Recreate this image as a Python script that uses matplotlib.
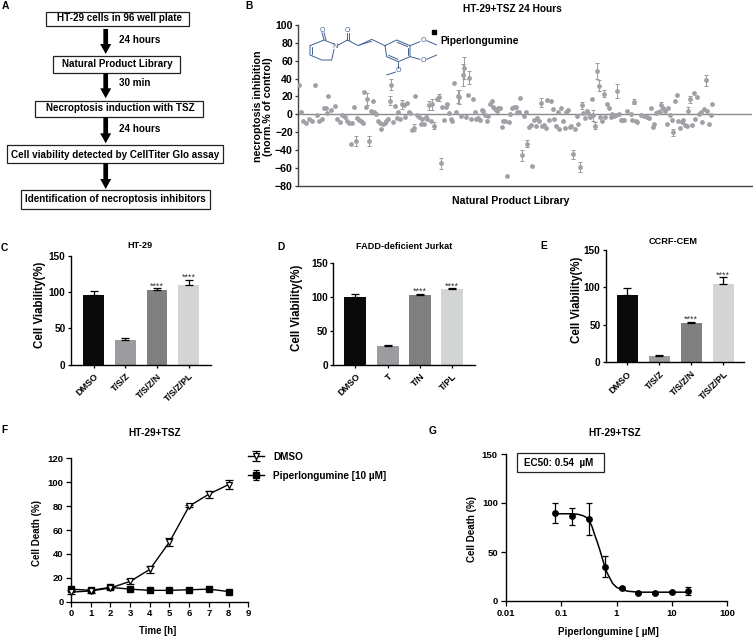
import matplotlib
matplotlib.use('Agg')
import matplotlib.pyplot as plt
from matplotlib.patches import FancyArrow, Rectangle

W, H = 753, 638
plt.rcParams['font.family'] = ['Liberation Sans', 'DejaVu Sans']
plt.rcParams['font.weight'] = 'bold'
plt.rcParams['axes.labelweight'] = 'bold'
plt.rcParams['axes.linewidth'] = 1.0
NARROW = ['Liberation Sans Narrow', 'Liberation Sans']

# ---------- panel B data ----------
lib_x = [208,214,220,229,237,245,255,260,266,275,
         282,287,291,295,303,316,321,329,337,345,
         352,358,362,367,372,377,382,388,393,398,
         403,408,412,418,423,428,433,438,443,449,
         454,459,464,469,474,479,484,490,494,500,
         505,511,516,521,526,531,536,541,546,551,
         556,562,567,572,577,582,587,592,597,602,
         607,612,622,626,632,637,642,647,652,657,
         662,667,672,678,683,688,693,698,703,708,
         713,718,723,729,734,739,744,750,755,760,
         765,770,775,780,785,790,795,800,805,810,
         815,820,825,830,836,
         841,846,851,857,862,867,871,877,882,887,
         892,897,902,907,912,917,922,927,932,937,
         942,947,952,958,963,968,973,978,983,988,
         993,999,1004,1009,1014,1019,1024,1030,1035,1040,
         1045,1050,1055,1060,1065,1070,1075,1080,1085,1090,
         1096,1101,1106,1111,1116,1121,1126,1132,1137,1142,
         1147,1152,1157,1162,1167,1172,1177,1182,1192,1202,
         1207,1212,1217,1222,1232,1242,1252,1258,1264,1269,
         1273,1278,1285,1290,1294,1300,1305,1310,1315,1320,
         1325,1330,1335,1340,1345,1350,1355,1360,1365,1370,
         1375,1380,1385,1391,1396,1401,1406,1412,1417,1422,
         1427,1432,1437,1442,1447]
lib_y = [33,2,-7,-10,-5,-7,33,-1,-8,-5,
         7,7,1,21,5,9,-5,-9,-1,-3,
         -7,-10,-33,-10,8,-30,-4,-6,-8,-10,
         25,8,17,-30,4,15,2,0,-8,-10,
         -16,-11,-10,-7,-5,15,33,-9,9,-4,
         3,-5,11,10,-3,13,3,1,-18,-15,
         21,-1,-3,-11,-5,-11,-3,-5,10,-8,
         11,-13,17,19,-55,8,-6,8,12,1,
         -5,-7,35,3,20,19,-2,44,52,-3,
         22,41,-5,17,2,-5,-4,-6,5,4,
         -1,-7,-2,12,15,8,6,4,7,7,
         -14,-8,-7,-69,-9,
         0,7,8,8,3,2,18,-46,-2,3,
         -33,-14,-12,-58,-6,-13,-4,-8,13,-13,
         -12,-15,16,-6,15,6,-5,-13,2,-17,
         7,-7,-15,3,5,-14,-13,-45,-17,-2,
         -11,-59,10,1,-4,4,1,-3,17,-1,
         -13,48,32,-3,-7,23,-3,12,7,-3,
         0,-2,-1,26,0,-6,-6,-6,4,0,
         -6,14,-7,-9,-1,-2,-3,-4,7,-14,
         -11,1,2,3,10,7,4,-11,7,-1,
         -6,-20,15,22,-7,-15,-9,-6,-12,-13,
         4,17,-12,24,-5,19,0,2,-9,6,
         38,4,-11,-1,12]
err_x = [377,418,412,484,479,516,551,597,607,612,626,632,683,688,698,703,718,877,892,932,1030,1050,1055,1090,1096,1101,1106,1121,1162,1212,1294,1330,1375,1380,1427]
err_y = [-30,-30,17,33,15,11,-15,10,11,-13,19,-55,20,19,44,52,41,-46,-33,13,-45,-59,10,-1,-13,48,32,23,26,14,10,-20,4,17,38]
err_e = [6,6,7,6,5,5,4,5,6,4,4,6,7,8,12,12,7,6,4,5,5,6,4,6,4,9,6,4,8,3,4,4,4,4,6]
pl_x = [611]
pl_y = [92]
pl_e = [2]
b_yticks = list(range(-80, 101, 20))

# ---------- bar panels ----------
c_labels = ['DMSO', 'T/S/Z', 'T/S/Z/N', 'T/S/Z/PL']
c_vals = [96, 34.5, 102.5, 109]
c_errs = [5, 2, 3, 8]
d_labels = ['DMSO', 'T', 'T/N', 'T/PL']
d_vals = [100, 28, 103, 111]
d_errs = [4, 1, 1.5, 1.5]
e_labels = ['DMSO', 'T/S/Z', 'T/S/Z/N', 'T/S/Z/PL']
e_vals = [90, 8.5, 52.5, 104]
e_errs = [8.5, 1.5, 1.5, 9]
bar_colors = ['#0a0a0a', '#9b9ba0', '#808080', '#d3d5d5']

# ---------- panel F ----------
time_h = [0, 1, 2, 3, 4, 5, 6, 7, 8]
dmso = [8, 9, 11.5, 17, 27, 50, 80, 90, 98]
dmso_err = [1.5, 2, 1, 2, 3, 3, 1, 3, 4]
piper = [10.5, 9.5, 12, 10.5, 9.5, 9.5, 10, 10.5, 8.5]
piper_err = [1, 1, 1, 1, 1, 1, 1, 1, 1]

# ---------- panel G ----------
conc = [0.078, 0.156, 0.3125, 0.625, 1.25, 2.5, 5, 10, 20]
death = [90, 86.5, 84, 35, 13, 8, 8.5, 9, 10]
death_err = [10, 8.5, 16.5, 11, 1, 1, 1, 1, 4]
fit_x = [0.078, 0.12, 0.156, 0.2, 0.25, 0.29, 0.32, 0.36, 0.4, 0.45, 0.5, 0.55, 0.6, 0.65, 0.7, 0.78, 0.85, 1, 1.25, 1.6, 2, 2.5, 5, 10, 20]
fit_y = [89, 89, 89, 88.5, 87, 85, 82, 76, 68, 60, 52, 44, 37, 31, 27, 22, 18, 14, 11.5, 10, 9.5, 9, 9, 9, 9]

fig = plt.figure(figsize=(W / 100, H / 100), dpi=100)


def px_axes(x0, y0, x1, y1):
    ax = fig.add_axes([x0 / W, 1 - y1 / H, (x1 - x0) / W, (y1 - y0) / H])
    ax.patch.set_alpha(0)
    ax.spines['top'].set_visible(False)
    ax.spines['right'].set_visible(False)
    return ax


def place_labels(ax, box, ylab=None, xlab=None):
    """Put axis labels at pixel centres."""
    x0, y0, x1, y1 = box
    if ylab:
        ax.yaxis.label.set_va('center')
        ax.yaxis.set_label_coords((ylab[0] - x0) / (x1 - x0), (y1 - ylab[1]) / (y1 - y0))
    if xlab:
        ax.xaxis.label.set_va('center')
        ax.xaxis.set_label_coords((xlab[0] - x0) / (x1 - x0), (y1 - xlab[1]) / (y1 - y0))


# overlay in pixel coordinates for the flowchart, structure and labels
ov = fig.add_axes([0, 0, 1, 1], zorder=5)
ov.set_xlim(0, W)
ov.set_ylim(H, 0)
ov.axis('off')
ov.patch.set_alpha(0)

for t, x, y in [('A', 5, 6), ('B', 249, 6), ('C', 4, 248), ('D', 281, 247), ('E', 544, 246), ('F', 5, 430), ('G', 433, 431)]:
    ov.text(x, y, t, fontsize=7.4, ha='center', va='center')

# Panel A
boxes = [(46.3, 11.7, 189.3, 26, 'HT-29 cells in 96 well plate', 120, 18.3),
         (52.7, 56.3, 180, 73.3, 'Natural Product Library', 117.3, 64.3),
         (34.7, 100.7, 202.7, 117.3, 'Necroptosis induction with TSZ', 120, 108.3),
         (7.3, 145.3, 223.3, 163.3, 'Cell viability detected by CellTiter Glo assay', 114.7, 154.5),
         (21.3, 190, 210, 209.3, 'Identification of necroptosis inhibitors', 115.7, 199.5)]
for x0, y0, x1, y1, t, tx, ty in boxes:
    ov.add_patch(Rectangle((x0, y0), x1 - x0, y1 - y0, fill=False, ec='#222222', lw=0.9))
    ov.text(tx, ty, t, fontsize=7.15, ha='center', va='center')
for y0, y1 in [(29, 54), (73.3, 98.3), (117.3, 143.3), (163.3, 189)]:
    ov.add_patch(FancyArrow(105.7, y0, 0, y1 - y0, width=4.7, head_width=11, head_length=10,
                            length_includes_head=True, color='black', lw=0))
for t, y in [('24 hours', 39.7), ('30 min', 83.3), ('24 hours', 129)]:
    ov.text(119, y, t, fontsize=7.15, ha='left', va='center')

# Panel B structure
bonds = [[(240, 137), (282, 120), (312, 132)], [(312, 148), (305, 180), (275, 180), (240, 165), (240, 137)],
         [(246, 140), (246, 162)], [(282, 120), (276, 98)], [(288, 120), (282, 98)],
         [(322, 137), (352, 120), (385, 137), (425, 118), (465, 137)], [(352, 120), (352, 98)], [(358, 120), (358, 98)],
         [(390, 134), (425, 124)],
         [(465, 137), (500, 120), (540, 137), (540, 170), (505, 185), (470, 170), (465, 137)],
         [(502, 127), (533, 140)], [(534, 143), (534, 166)], [(504, 178), (476, 166)],
         [(540, 137), (570, 125)], [(590, 122), (620, 135)], [(540, 170), (570, 178)], [(590, 178), (620, 165)],
         [(505, 185), (505, 204)], [(497, 216), (470, 225)]]
for b in bonds:
    ov.plot([230 + p[0] / 3 for p in b], [p[1] / 3 for p in b], color='#3f5f90', lw=0.7, solid_capstyle='round')
for t, x, y in [('O', 276, 92), ('O', 352, 92), ('N', 315, 138), ('O', 580, 122), ('O', 579, 180), ('O', 504, 211)]:
    ov.text(230 + x / 3, y / 3, t, fontsize=5.0, color='#3f5f90', ha='center', va='center', fontweight='normal')
ov.text(440, 41, 'Piperlongumine', fontsize=7.35, ha='left', va='center')

# B
box = (298.3, 25, 752, 185.7)
ax = px_axes(*box)
ax.set_xlim(205, 1566)
ax.set_ylim(-80, 100)
ax.axhline(0, color='#8a8a8a', lw=1.0, zorder=1)
ax.errorbar(err_x, err_y, yerr=err_e, fmt='none', ecolor='#9a9a9e', elinewidth=0.7, capsize=1.6, capthick=0.7, zorder=2)
ax.scatter(lib_x, lib_y, s=12, color='#a0a0a6', lw=0, zorder=3)
ax.errorbar(pl_x, pl_y, yerr=pl_e, fmt='s', color='black', ms=2.6, elinewidth=0.7, capsize=1.6, capthick=0.7, zorder=4)
ax.set_xticks([])
ax.set_yticks(b_yticks)
ax.tick_params(axis='y', labelsize=7.6, width=0.9, length=2.4, pad=1.5, color='#333333')
for s in ('left', 'bottom'):
    ax.spines[s].set_color('#444444')
ax.set_ylabel('necroptosis inhibition\n(norm.% of control)', fontsize=7.7, linespacing=1.05)
ax.set_xlabel('Natural Product Library', fontsize=7.6)
place_labels(ax, box, ylab=(263, 106.7), xlab=(511, 201))
ov.text(512, 9.5, 'HT-29+TSZ 24 Hours', fontsize=7.25, ha='center', va='center')


def bars(box, xc0, dx, width, labels, vals, errs, title, tx, ty, star_offset, ylab):
    x0, y0, x1, y1 = box
    ax = px_axes(x0, y0, x1, y1)
    ax.set_xlim((x0 - xc0) / dx, (x1 - xc0) / dx)
    ax.set_ylim(0, 150)
    pos = list(range(len(vals)))
    ax.bar(pos, vals, width=width / dx, color=bar_colors, lw=0)
    ax.errorbar(pos, vals, yerr=[[0] * len(errs), errs], fmt='none', ecolor='black', elinewidth=0.9, capsize=3.2, capthick=0.9)
    ax.set_xticks(pos)
    ax.set_xticklabels(labels, rotation=45, ha='right', rotation_mode='anchor', fontsize=6.6, family=NARROW)
    ax.set_yticks([0, 50, 100, 150])
    ax.tick_params(axis='y', labelsize=7.2, width=0.9, length=2.4, pad=1.5)
    ax.tick_params(axis='x', width=0.9, length=2.5, pad=2.5)
    for lab in ax.get_yticklabels():
        lab.set_family(NARROW)
    ax.set_ylabel('Cell Viability(%)', fontsize=8.3)
    place_labels(ax, box, ylab=ylab)
    for i in (2, 3):
        ax.text(pos[i], vals[i] + errs[i] + star_offset, '****', fontsize=6.4, ha='center', va='center',
                fontweight='normal', color='#333333')
    ov.text(tx, ty, title, fontsize=6.6, ha='center', va='center', family=NARROW)


bars((71, 255.7, 210.7, 364.7), 93.7, 31.7, 20.7, c_labels, c_vals, c_errs, 'HT-29', 140, 246, 3, (40, 305))
bars((333.3, 262.7, 475, 364.7), 355.3, 32.3, 22, d_labels, d_vals, d_errs, 'FADD-deficient Jurkat', 404, 246.5, 3, (297, 308.3))
bars((606, 249.7, 744.3, 362.3), 627.2, 32, 21, e_labels, e_vals, e_errs, 'CCRF-CEM', 673, 241.5, 3.5, (576.7, 300.3))

# F
box = (71, 458.3, 248.3, 601.7)
ax = px_axes(*box)
ax.set_xlim(0, 9)
ax.set_ylim(0, 120)
ax.errorbar(time_h, piper, yerr=piper_err, fmt='-s', color='black', ms=3.8, lw=1.0, elinewidth=0.9, capsize=2, capthick=0.9,
            clip_on=False, label='Piperlongumine [10 µM]', zorder=3)
ax.errorbar(time_h, dmso, yerr=dmso_err, fmt='-v', color='black', mfc='white', mew=0.9, ms=4.2, lw=1.0, elinewidth=0.9, capsize=2.6,
            capthick=0.9, clip_on=False, label='DMSO', zorder=4)
ax.set_xticks(range(10))
ax.set_yticks(range(0, 121, 20))
ax.tick_params(labelsize=6.8, width=0.9, length=3.4, pad=2)
ax.set_xlabel('Time [h]', fontsize=6.9)
ax.set_ylabel('Cell Death (%)', fontsize=7.0)
place_labels(ax, box, ylab=(36.7, 532.5), xlab=(157.7, 631))
h, l = ax.get_legend_handles_labels()
ax.legend(h[::-1], l[::-1], loc='upper left', bbox_to_anchor=(1.0, 1.047), frameon=False, fontsize=7.2, handlelength=1.6,
          handletextpad=0.9, labelspacing=0.93, borderaxespad=0, borderpad=0)
ov.text(155, 432.7, 'HT-29+TSZ', fontsize=7.3, ha='center', va='center')

# G
box = (506, 454, 727, 601)
ax = px_axes(*box)
ax.set_xscale('log')
ax.set_xlim(0.01, 100)
ax.set_ylim(0, 150)
ax.plot(fit_x, fit_y, color='black', lw=1.1)
ax.errorbar(conc, death, yerr=death_err, fmt='o', color='black', ms=3.9, elinewidth=0.9, capsize=2.4, capthick=0.9)
ax.set_xticks([0.01, 0.1, 1, 10, 100])
ax.set_xticklabels(['0.01', '0.1', '1', '10', '100'])
ax.minorticks_off()
ax.set_yticks([0, 50, 100, 150])
ax.tick_params(labelsize=6.8, width=0.9, length=3.4, pad=2.5)
ax.set_xlabel('Piperlongumine [ µM]', fontsize=7.1)
ax.set_ylabel('Cell Death (%)', fontsize=7.0)
place_labels(ax, box, ylab=(471.7, 528.8), xlab=(608.7, 631.7))
ov.add_patch(Rectangle((516.7, 453.3), 87.6, 19, fill=False, ec='#222222', lw=0.9))
ov.text(559, 463, 'EC50: 0.54  µM', fontsize=7.1, ha='center', va='center')
ov.text(615, 433, 'HT-29+TSZ', fontsize=7.3, ha='center', va='center')

fig.savefig('out.png', dpi=100)
